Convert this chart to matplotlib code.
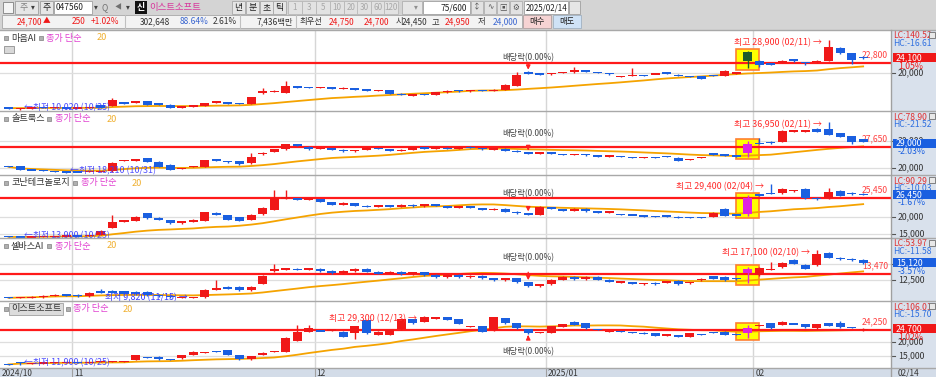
#!/usr/bin/python3
'''
Multi-stock candle chart (HTS style), 5 panels sharing one date axis.
Saves out.png (936x377).
'''
import numpy as np
import pandas as pd
import matplotlib
matplotlib.use('Agg')
import matplotlib.pyplot as plt
from matplotlib.patches import Rectangle

plt.rcParams['font.family'] = ['Noto Sans CJK KR', 'DejaVu Sans']

W, H = 936, 377
PLOT_R = 891
RED, BLUE = '#f01818', '#1a5fe0'
MA_COLOR = '#f5a300'
FS = 6.4

############ Data ############
# 75 trading days, 2024/10/24 .. 2025/02/14
month_first = [6, 27, 47, 65]
month_labels = ['11', '12', '2025/01', '02']

maum_o = [10550, 10300, 10400, 10650, 10450, 10600, 10400, 10500, 11200, 10950,
          11900, 11850, 12300, 11600, 11400, 10500, 10750, 11100, 12050, 12050,
          11850, 11550, 14550, 14900, 14550, 16400, 16150, 16000, 16100, 15700,
          16000, 15500, 15100, 15300, 14400, 13900, 14300, 14000, 14700, 15300,
          15000, 15400, 15100, 15500, 16500, 20300, 19900, 19600, 20000, 20200,
          20700, 20300, 20000, 19000, 19200, 19350, 19650, 20050, 19550, 19150,
          19100, 19300, 19250, 19900, 25700, 23200, 22550, 22700, 23800, 22850,
          22900, 23350, 26800, 25450, 24300]
maum_h = [10700, 10550, 10700, 10750, 10700, 10650, 10650, 10800, 11300, 13200,
          12100, 12400, 12400, 11850, 11450, 11000, 11300, 11950, 12300, 12150,
          11900, 13500, 15900, 15250, 17900, 16500, 16300, 16300, 16200, 16100,
          16050, 15600, 15500, 15400, 14500, 14300, 14400, 14900, 15300, 15400,
          15500, 15500, 15600, 17000, 20200, 20500, 20000, 20100, 20400, 21500,
          20800, 20400, 20100, 19300, 21350, 19450, 19950, 20100, 19650, 19250,
          19150, 19400, 20800, 20150, 26050, 23600, 22700, 23450, 23900, 23000,
          23450, 28900, 27000, 25500, 24500]
maum_l = [10300, 10020, 10300, 10400, 10400, 10300, 10350, 10450, 10450, 10900,
          11600, 11800, 11300, 11400, 10400, 10400, 10700, 11000, 11950, 11600,
          11450, 11500, 14400, 14800, 14500, 15800, 15900, 15900, 15600, 15600,
          15400, 15100, 15000, 14300, 13900, 13800, 13900, 13950, 14600, 14900,
          14900, 15000, 15000, 15400, 16400, 19600, 19400, 19500, 19900, 20100,
          20200, 19900, 19500, 18900, 19100, 19150, 19600, 19850, 19050, 18950,
          18400, 19100, 19200, 19800, 21450, 21550, 22200, 22600, 23100, 22300,
          22800, 23200, 25300, 22450, 23700]
maum_c = [10450, 10450, 10600, 10450, 10600, 10400, 10550, 10700, 10500, 12750,
          11800, 12300, 11400, 11550, 10500, 10950, 11200, 11850, 12150, 11650,
          11500, 13400, 15200, 15100, 16400, 15900, 16050, 16150, 15700, 16000,
          15500, 15200, 15400, 14400, 14000, 14200, 14000, 14800, 15200, 15000,
          15400, 15100, 15500, 16800, 19500, 19800, 19600, 20000, 20300, 20900,
          20300, 20000, 19600, 19150, 19300, 19250, 19850, 19900, 19100, 19050,
          18450, 19200, 20450, 20050, 23200, 22100, 22350, 23350, 23200, 22700,
          23350, 27000, 25450, 23650, 24100]

salt_o = [20400, 20600, 19200, 19000, 18700, 18500, 18400, 18350, 18600, 18700,
          22650, 22700, 23450, 22200, 21000, 19600, 20300, 20350, 23100, 22450,
          22450, 21600, 24900, 25900, 26750, 28600, 27750, 26800, 27200, 26600,
          26000, 26500, 27300, 26800, 26200, 26600, 27500, 27100, 27400, 26900,
          27800, 27300, 26700, 27000, 26300, 25800, 25200, 25600, 25000, 24600,
          25000, 24500, 24200, 24300, 23750, 23650, 23750, 24050, 23700, 22850,
          23600, 25300, 24900, 24300, 25300, 29000, 29600, 29600, 33500, 33500,
          34250, 34150, 32650, 31650, 30450]
salt_h = [20550, 20700, 19300, 19150, 18850, 18600, 18500, 18700, 18800, 22000,
          23000, 23050, 23600, 22300, 21200, 19900, 20600, 23000, 23250, 22600,
          22550, 25500, 25800, 26900, 28800, 28900, 27900, 27400, 27300, 26700,
          26600, 27500, 27400, 26900, 26700, 27700, 27600, 27600, 27500, 28000,
          27900, 27400, 27200, 27100, 26400, 25900, 25700, 25700, 25100, 25100,
          25100, 24600, 24500, 24400, 23900, 23850, 23850, 24200, 23800, 23300,
          23850, 25400, 25000, 24400, 29800, 30950, 29800, 33800, 34000, 33900,
          34500, 36950, 32800, 31800, 30600]
salt_l = [20200, 19100, 18950, 18700, 18400, 18210, 18250, 18300, 18500, 18500,
          22500, 22550, 22100, 20250, 19000, 19500, 20100, 20300, 22500, 21900,
          21150, 21500, 24800, 25800, 26600, 27900, 26600, 26700, 26500, 25900,
          25900, 26400, 26700, 26100, 26100, 26500, 27000, 27000, 26800, 26800,
          27200, 26600, 26600, 26200, 25700, 25000, 25100, 24900, 24500, 24500,
          24400, 24100, 24100, 23900, 23500, 23550, 23550, 23850, 22400, 22750,
          23500, 24600, 24200, 24100, 23800, 28700, 28900, 29500, 33300, 33300,
          33100, 31900, 31300, 28900, 29400]
salt_c = [20300, 19150, 19100, 18850, 18500, 18250, 18300, 18600, 18700, 21600,
          22850, 22850, 22200, 20350, 19150, 19800, 20350, 22800, 22600, 22000,
          21250, 24050, 25500, 26750, 28600, 28000, 26750, 27200, 26600, 26000,
          26500, 27300, 26800, 26200, 26600, 27500, 27100, 27400, 26900, 27800,
          27300, 26700, 27000, 26300, 25800, 25200, 25600, 25000, 24600, 25000,
          24500, 24200, 24400, 24000, 23650, 23750, 23650, 23950, 22500, 23200,
          23750, 24700, 24300, 24200, 28600, 28900, 29000, 33650, 33650, 33650,
          33250, 32050, 31400, 29550, 29550]

konan_o = [14300, 14200, 14050, 14150, 14250, 14300, 14500, 14350, 14700, 16800,
           18650, 18750, 21000, 19700, 19050, 18100, 18700, 18750, 21150, 20500,
           19800, 19050, 20700, 21950, 25150, 25200, 25050, 25100, 24300, 23500,
           24000, 23200, 22800, 23300, 22900, 23500, 23000, 23600, 23100, 22600,
           23100, 22500, 22000, 22300, 21500, 21000, 20500, 22800, 22200, 21700,
           22300, 21600, 21200, 20800, 20550, 20250, 20050, 20250, 19900, 19900,
           19900, 20000, 22150, 20550, 20700, 26350, 26850, 26800, 27450, 28050,
           25400, 25350, 27450, 26850, 26550]
konan_h = [14400, 14300, 14300, 14400, 14500, 14600, 14600, 14800, 16000, 20500,
           19100, 20100, 21100, 19800, 19150, 18850, 19200, 21400, 21300, 20600,
           19900, 20800, 22900, 27600, 27750, 25400, 25400, 25200, 24400, 24200,
           24100, 23300, 23400, 23400, 23700, 23600, 23800, 23700, 23200, 23200,
           23200, 22600, 22400, 22400, 21600, 21100, 23000, 22900, 22300, 22400,
           22400, 21700, 21600, 20900, 20700, 20400, 20200, 20400, 20100, 20000,
           20000, 21250, 22500, 20650, 26200, 26500, 29400, 28200, 27800, 28200,
           25600, 28200, 27600, 27050, 26800]
konan_l = [14000, 13900, 14000, 14100, 14150, 14250, 14250, 14300, 14600, 16700,
           18400, 18650, 19450, 18950, 18000, 18000, 18500, 18650, 20400, 18950,
           18750, 18950, 20600, 21850, 25000, 24900, 24900, 24200, 23400, 23400,
           23100, 22700, 22700, 22800, 22800, 22900, 22900, 23000, 22500, 22500,
           22400, 21900, 21900, 21400, 20900, 20400, 20400, 22100, 21600, 21600,
           21500, 21100, 21100, 20500, 20350, 20050, 19850, 20050, 19600, 19650,
           19650, 19900, 20100, 20350, 20100, 26000, 26500, 26700, 27300, 25200,
           24800, 25200, 26000, 26400, 26300]
konan_c = [14150, 14050, 14200, 14300, 14400, 14500, 14350, 14700, 15850, 18550,
           18800, 20000, 19550, 19050, 18100, 18750, 18800, 21300, 20500, 19050,
           18850, 20500, 22450, 25350, 25800, 25050, 25200, 24300, 23500, 24000,
           23200, 22800, 23300, 22900, 23500, 23000, 23600, 23100, 22600, 23100,
           22500, 22000, 22300, 21500, 21000, 20500, 22800, 22200, 21700, 22300,
           21600, 21200, 21500, 20600, 20450, 20150, 19950, 20150, 19800, 19800,
           19800, 21150, 20200, 20450, 25500, 26250, 26750, 28050, 27600, 25350,
           25350, 27250, 26100, 26750, 26450]

selvas_o = [10000, 9850, 9850, 9950, 10200, 10300, 10350, 10100, 10800, 10800,
            10850, 10750, 10750, 10300, 10100, 9900, 9820, 9950, 11150, 11400,
            11500, 11000, 12000, 13900, 14150, 14200, 14150, 14250, 13900, 13600,
            13900, 14200, 13800, 13500, 13800, 13400, 13700, 13300, 13000, 13300,
            13000, 13200, 12800, 12500, 12800, 12200, 11600, 11900, 12600, 13000,
            12700, 13000, 12600, 12200, 12150, 11950, 12150, 12200, 12400, 12100,
            12550, 13100, 13000, 12800, 13600, 13250, 14100, 14500, 15600, 14850,
            14750, 16600, 15800, 15650, 15600]
selvas_h = [10050, 10050, 10100, 10300, 10400, 10400, 10450, 10700, 11250, 11000,
            10950, 10850, 10850, 10400, 10200, 10050, 10050, 11200, 12500, 11600,
            11600, 11600, 13300, 15000, 14400, 14300, 14400, 14300, 14000, 14000,
            14300, 14300, 13900, 13900, 13900, 13800, 13800, 13400, 13400, 13400,
            13300, 13300, 12900, 12900, 12900, 12300, 12000, 12700, 13100, 13100,
            13100, 13100, 12700, 12400, 12250, 12150, 12250, 12400, 12500, 12300,
            12800, 13200, 13100, 12900, 14500, 14450, 15250, 15200, 15700, 14950,
            17100, 16750, 15950, 15800, 15700]
selvas_l = [9830, 9830, 9830, 9850, 10150, 10150, 10050, 10050, 10650, 10600,
            10400, 10350, 10200, 10000, 9900, 9850, 9820, 9900, 11050, 11200,
            10900, 10900, 11900, 13800, 14050, 14000, 14050, 13800, 13500, 13500,
            13800, 13700, 13400, 13400, 13300, 13300, 13200, 12900, 12900, 12900,
            12900, 12700, 12400, 12400, 12100, 11500, 11500, 11800, 12500, 12600,
            12600, 12500, 12200, 12100, 11950, 11850, 11850, 12100, 11850, 12000,
            12450, 12650, 12400, 12600, 12140, 13150, 14000, 14400, 14900, 14150,
            14650, 15800, 15550, 15400, 15000]
selvas_c = [9850, 9950, 10000, 10200, 10300, 10250, 10100, 10600, 10700, 10700,
            10500, 10400, 10250, 10100, 9950, 9950, 9950, 11100, 11250, 11300,
            11000, 11500, 13100, 14250, 14250, 14150, 14250, 13900, 13600, 13900,
            14200, 13800, 13500, 13800, 13400, 13700, 13300, 13000, 13300, 13000,
            13200, 12800, 12500, 12800, 12200, 11600, 11900, 12600, 13000, 12700,
            13000, 12600, 12300, 12300, 12050, 12050, 11900, 12300, 11900, 12200,
            12650, 12750, 12500, 12700, 14250, 14350, 14200, 15100, 15000, 14250,
            16500, 15900, 15700, 15550, 15120]

east_o = [12100, 12700, 12300, 12400, 12500, 12600, 12900, 12600, 12800, 12850,
          12900, 13570, 14600, 14750, 13850, 14180, 15360, 16250, 16600, 17140,
          15360, 13820, 15360, 16450, 16540, 20460, 23680, 24000, 24200, 23680,
          23100, 27850, 22500, 22500, 24530, 28100, 27250, 28500, 28900, 28100,
          25400, 25710, 24280, 28460, 26680, 24530, 23250, 23320, 25460, 27250,
          26680, 24600, 23600, 23750, 23400, 23150, 23100, 22430, 22500, 21900,
          22800, 23500, 23680, 22800, 23100, 25950, 26680, 26070, 26500, 26430,
          24890, 26680, 26680, 25300, 24450]
east_h = [12250, 12800, 12600, 12800, 12900, 13000, 13000, 13000, 13200, 13100,
          13200, 15500, 14800, 14850, 14100, 15450, 16650, 16500, 16750, 17250,
          15450, 15100, 16300, 16700, 21700, 26000, 26000, 24200, 24450, 23800,
          25850, 28000, 23800, 24400, 28250, 28250, 29300, 28900, 29000, 28200,
          25700, 25850, 29000, 28600, 26800, 24650, 23550, 25850, 26550, 27400,
          26800, 24750, 23900, 23850, 23500, 23400, 23200, 22700, 22600, 23200,
          22950, 23600, 23800, 22900, 26000, 26200, 26800, 27600, 26600, 26550,
          26550, 26800, 27400, 25450, 24950]
east_l = [11900, 11900, 12200, 12300, 12400, 12500, 12500, 12500, 12700, 12700,
          12800, 13500, 14300, 13700, 13650, 14100, 15250, 16100, 16350, 15250,
          13750, 13750, 15250, 16350, 16400, 20350, 23550, 23750, 24100, 21800,
          21000, 22950, 22400, 22400, 24400, 26550, 27100, 28350, 27850, 26300,
          25250, 23550, 24100, 26550, 24750, 22950, 23100, 23200, 25350, 25950,
          24750, 24350, 23450, 23450, 23100, 22950, 22050, 22300, 21800, 21700,
          22550, 23250, 22400, 22550, 21400, 25800, 24750, 25950, 26250, 25100,
          24750, 25700, 25100, 25050, 24000]
east_c = [12000, 12600, 12500, 12700, 12800, 12900, 12600, 12900, 13100, 13000,
          13050, 15360, 14500, 13800, 13800, 15360, 16540, 16350, 16500, 15360,
          13820, 15000, 16180, 16550, 21540, 23680, 24890, 23900, 24300, 21900,
          25710, 23100, 23680, 24280, 28100, 26680, 29030, 28650, 27900, 26430,
          25550, 23680, 28900, 26680, 24890, 23100, 23400, 25710, 26430, 26070,
          24890, 24500, 23750, 23600, 23250, 23100, 22140, 22550, 21900, 23100,
          22700, 23400, 22500, 22700, 24890, 26070, 24890, 27250, 26400, 25250,
          26430, 25820, 25250, 25200, 24700]

names = ['마음AI', '솔트룩스', '코난테크놀로지', '셀바스AI', '이스트소프트']
ohlc = [(maum_o, maum_h, maum_l, maum_c), (salt_o, salt_h, salt_l, salt_c),
        (konan_o, konan_h, konan_l, konan_c), (selvas_o, selvas_h, selvas_l, selvas_c),
        (east_o, east_h, east_l, east_c)]
ref_lines = [22800, 27650, 25450, 13470, 24250]
last_prices = [24100, 29000, 26450, 15120, 24700]
last_change = ['1.05%', '-2.03%', '-1.67%', '-3.57%', '1.02%']
lc_text = ['LC:140.52', 'LC:78.90', 'LC:90.29', 'LC:53.97', 'LC:106.01']
hc_text = ['HC:-16.61', 'HC:-21.52', 'HC:-10.03', 'HC:-11.58', 'HC:-15.70']
axis_ticks = [[20000], [20000, 30000], [15000, 20000], [12500], [15000, 20000]]
grid_levels = [[20000], [20000, 30000], [15000, 20000], [12500, 15000], [15000, 20000]]
high_idx = [71, 71, 66, 70, 36]
high_text = ['최고 28,900 (02/11)', '최고 36,950 (02/11)', '최고 29,400 (02/04)',
             '최고 17,100 (02/10)', '최고 29,300 (12/13)']
low_idx = [1, 5, 1, 16, 1]
low_text = ['최저 10,020 (10/25)', '최저 18,210 (10/31)', '최저 13,900 (10/25)',
            '최저 9,820 (11/15)', '최저 11,900 (10/25)']
EX_DIV_IDX = 45
HILITE_IDX = 64

############ Layout ############
PANEL_ROWS = [(30, 111), (111, 175), (175, 238), (238, 301), (301, 368)]
PANEL_YLIM = [(9664, 31696), (17288, 40904), (13823, 32093), (9375, 18887), (10718, 34637)]
XLIM = (-0.736, 76.41)
title_x = [(39, 46, 97), (47, 55, 107), (73, 81, 132), (47, 55, 107), (66, 73, 123)]
div_offset = [10, 13, 14, 17, -13]     # points, text offset from the candle
low_left = [False, False, False, True, False]


def v2y(i, v):
    top, bot = PANEL_ROWS[i]
    lo, hi = PANEL_YLIM[i]
    return top + (hi - v) / (hi - lo) * (bot - top)


fig = plt.figure(figsize=(W / 100, H / 100), dpi=100)
fig.patch.set_facecolor('#d4d4d4')

ov = fig.add_axes([0, 0, 1, 1], zorder=10)
ov.set_xlim(0, W)
ov.set_ylim(H, 0)
ov.axis('off')
ov.patch.set_visible(False)


def rect(x0, y0, x1, y1, fc, ec='none', lw=0.8, z=1):
    ov.add_patch(Rectangle((x0, y0), x1 - x0, y1 - y0, facecolor=fc,
                           edgecolor=ec, linewidth=lw, zorder=z))


def txt(x, y, s, color='#222222', size=FS, ha='left', va='center', **kw):
    ov.text(x, y, s, color=color, fontsize=size, ha=ha, va=va, **kw)


############ Candle panels ############
for i, (o, h, l, c) in enumerate(ohlc):
    top, bot = PANEL_ROWS[i]
    ax = fig.add_axes([0, 1 - bot / H, PLOT_R / W, (bot - top) / H], zorder=1)
    ax.set_xlim(*XLIM)
    ax.set_ylim(*PANEL_YLIM[i])
    ax.set_xticks([])
    ax.set_yticks([])
    for s in ax.spines.values():
        s.set_visible(False)
    ax.set_facecolor('white')

    o, h, l, c = map(np.array, (o, h, l, c))
    x = np.arange(len(o))
    px = (PANEL_YLIM[i][1] - PANEL_YLIM[i][0]) / (bot - top)

    # grid
    for m in month_first:
        ax.axvline(m - 0.5, color='#d6d6d6', lw=1, zorder=0.5)
    for t in grid_levels[i]:
        ax.axhline(t, color='#dedede', lw=0.9, zorder=0.5)

    # highlight box on the selected day
    j = HILITE_IDX
    ax.add_patch(Rectangle((j - 1.0, l[j] - 2 * px), 2.0, h[j] - l[j] + 4 * px,
                           facecolor='#ffff00', edgecolor='#ff7f30', lw=1.2, zorder=2))

    # moving average (close, simple, 20)
    ma = pd.Series(c).rolling(20, min_periods=1).mean()
    ax.plot(x, ma, color=MA_COLOR, lw=1.3, zorder=2.5)

    # reference line
    ax.axhline(ref_lines[i], color='#ff1a1a', lw=1.6, zorder=2.6)
    ax.annotate(f'{ref_lines[i]:,}', xy=(73.9, ref_lines[i]), xytext=(0, 2.5),
                textcoords='offset points', color='#ff4040', fontsize=6.2,
                ha='left', va='bottom')

    # candles
    up = c >= o
    cols = np.where(up, RED, BLUE).astype(object)
    cols[j] = '#e020e0' if up[j] else '#1d5c2c'
    ax.vlines(x, l, h, colors=list(cols), lw=1, zorder=3)
    body = np.maximum(np.abs(c - o), 1.3 * px)
    base = np.minimum(o, c) - (body - np.abs(c - o)) / 2
    ax.bar(x, body, bottom=base, width=0.78, color=list(cols), linewidth=0, zorder=4)

    # high / low markers
    k = high_idx[i]
    ax.annotate(high_text[i] + ' →', xy=(k, h[k]), xytext=(-5, -2),
                textcoords='offset points', color='#ff2a2a', fontsize=FS,
                ha='right', va='center', zorder=6)
    k = low_idx[i]
    if low_left[i]:
        ax.annotate(low_text[i] + ' →', xy=(k, l[k]), xytext=(-4, 0),
                    textcoords='offset points', color='#3a3aff', fontsize=FS,
                    ha='right', va='center', zorder=6)
    else:
        ax.annotate('←' + low_text[i], xy=(k, l[k]), xytext=(3, 1.5),
                    textcoords='offset points', color='#3a3aff', fontsize=FS,
                    ha='left', va='center', zorder=6, alpha=0.9)

    # ex-dividend marker
    k = EX_DIV_IDX
    dy = div_offset[i]
    anchor = h[k] if dy > 0 else l[k]
    ax.annotate('배당락(0.00%)', xy=(k, anchor), xytext=(0, dy),
                textcoords='offset points', color='#444444', fontsize=6,
                ha='center', va='center', zorder=6,
                arrowprops=dict(arrowstyle='-|>', color='#ff2020', lw=1,
                                mutation_scale=6, shrinkA=5, shrinkB=1))

    # title
    ty = top + 8
    sq1, sq2, n20 = title_x[i]
    rect(4, ty - 2, 8, ty + 2, '#b0b0b0', ec='#808080', lw=0.5, z=5)
    if i == 4:
        rect(9, ty - 6, 63, ty + 6, '#dcdcdc', ec='#a0a0a0', lw=0.6, z=4)
    txt(11, ty, names[i], color='#333333', size=6.6, zorder=6)
    rect(sq1, ty - 2, sq1 + 4, ty + 2, '#b0b0b0', ec='#808080', lw=0.5, z=5)
    txt(sq2, ty, '종가 단순', color='#e040d0', size=6.6)
    txt(n20, ty, '20', color='#f0b030', size=6.6)

    # right value strip
    rect(PLOT_R, top, W, bot, '#d9e1ec', ec='none', z=1)
    txt(893, top + 6, lc_text[i], color='#e03030', size=6.2)
    txt(893, top + 13.5, hc_text[i], color='#3070e0', size=6.2)
    rect(929, top + 2, 935, top + 8, '#e8e8e8', ec='#707070', lw=0.6, z=3)
    for t in grid_levels[i]:
        yy = v2y(i, t)
        ov.plot([PLOT_R, PLOT_R + 4], [yy, yy], color='#555555', lw=0.8, zorder=2)
    for t in axis_ticks[i]:
        txt(898, v2y(i, t), f'{t:,}', color='#333333', size=6.3, zorder=2)
    yy = v2y(i, last_prices[i])
    pc = RED if not last_change[i].startswith('-') else BLUE
    rect(893, yy - 4.5, W, yy + 4.5, pc, z=4)
    txt(896, yy, f'{last_prices[i]:,}', color='white', size=6.3, zorder=5)
    txt(898, yy + 8.5, last_change[i], color=pc, size=6.3, zorder=5)

# panel frames
for top, bot in PANEL_ROWS:
    ov.plot([0, W], [top, top], color='#a8a8a8', lw=1, zorder=7)
ov.plot([0, W], [368, 368], color='#a8a8a8', lw=1, zorder=7)
ov.plot([PLOT_R, PLOT_R], [30, 377], color='#a0a0a0', lw=1, zorder=7)
rect(4, 46, 14, 53, '#d8d8d8', ec='#909090', lw=0.6, z=5)

############ Date axis ############
rect(0, 368, W, H, '#d3dce8', z=1)
txt(2, 373, '2024/10', color='#333333', size=6)
for m, lab in zip(month_first, month_labels):
    xp = 8.5 + 11.55 * (m - 0.5)
    ov.plot([xp, xp], [368, 377], color='#a0a0a0', lw=0.8, zorder=2)
    txt(xp + 2, 373, lab, color='#333333', size=6)
txt(898, 373, '02/14', color='#333333', size=6)

############ Toolbar ############
rect(0, 0, W, 29, '#d4d4d4', z=0)
rect(3, 2, 13, 13, '#f4f4f4', ec='#808080', lw=0.6)
rect(15, 1, 38, 14, '#e6e6e6', ec='#a0a0a0', lw=0.6)
txt(19, 7.5, '주', color='#808080')
txt(31, 7.5, '▾', color='#404040', size=5.5)
rect(40, 1, 53, 14, '#e6e6e6', ec='#a0a0a0', lw=0.6)
txt(46.5, 7.5, '추', ha='center')
rect(54, 1, 92, 14, 'white', ec='#a0a0a0', lw=0.6)
txt(56, 7.5, '047560', size=6)
txt(94, 7.5, '▾', color='#404040', size=5.5)
txt(102, 7.5, 'Q', color='#707070', size=6)
txt(115, 7.5, '◀', color='#707070', size=5)
txt(126, 7.5, '▾', color='#404040', size=5.5)
rect(135, 1, 147, 14, '#111111')
txt(141, 7.5, '신', color='white', ha='center', weight='bold')
txt(149, 7.5, '이스트소프트', color='#d8389c', size=6.8)
for xs, lab in zip([232, 246, 260, 273], ['년', '분', '초', '틱']):
    rect(xs, 1, xs + 13, 14, '#e6e6e6', ec='#a8a8a8', lw=0.6)
    txt(xs + 6.5, 7.5, lab, ha='center')
for xs, lab in zip([288, 302, 316, 330, 344, 357, 371, 384],
                   ['1', '3', '5', '10', '20', '30', '60', '120']):
    rect(xs, 1, xs + 14, 14, '#e2e2e2', ec='#b8b8b8', lw=0.6)
    txt(xs + 7, 7.5, lab, color='#a8a8a8', ha='center', size=5.8)
rect(402, 1, 422, 14, '#e6e6e6', ec='#b0b0b0', lw=0.6)
txt(414, 7.5, '▾', color='#909090', size=5.5)
rect(423, 1, 470, 14, 'white', ec='#a0a0a0', lw=0.6)
txt(467, 7.5, '75/600', ha='right', size=6)
for xs, lab in zip([471, 484, 497, 510], ['↕', '∿', '▣', '⚙']):
    rect(xs, 1, xs + 12, 14, '#e2e2e2', ec='#b0b0b0', lw=0.6)
    txt(xs + 6, 7.5, lab, color='#555555', ha='center', size=5.5)
rect(524, 1, 568, 14, 'white', ec='#a0a0a0', lw=0.6)
txt(526, 7.5, '2025/02/14', size=5.8)
rect(569, 1, 580, 14, '#e6e6e6', ec='#a0a0a0', lw=0.6)

rect(2, 15, 522, 28, '#f3f3f3', ec='#a8a8a8', lw=0.6)
for xs in [125, 240, 296]:
    ov.plot([xs, xs], [15, 28], color='#c0c0c0', lw=0.8, zorder=2)
ts = 6.0
txt(42, 21.5, '24,700', color=RED, ha='right', size=ts)
txt(43, 21.5, '▲', color=RED, size=5.5)
txt(85, 21.5, '250', color=RED, ha='right', size=ts)
txt(119, 21.5, '+1.02%', color=RED, ha='right', size=ts)
txt(170, 21.5, '302,648', color='#333333', ha='right', size=ts)
txt(208, 21.5, '88.64%', color='#3a66d0', ha='right', size=ts)
txt(237, 21.5, '2.61%', color='#333333', ha='right', size=ts)
txt(293, 21.5, '7,436백만', color='#333333', ha='right', size=ts)
txt(300, 21.5, '최우선', color='#333333', size=ts)
txt(354, 21.5, '24,750', color=RED, ha='right', size=ts)
txt(389, 21.5, '24,700', color=RED, ha='right', size=ts)
txt(396, 21.5, '시', color='#333333', size=ts)
txt(427, 21.5, '24,450', color='#333333', ha='right', size=ts)
txt(432, 21.5, '고', color='#333333', size=ts)
txt(470, 21.5, '24,950', color=RED, ha='right', size=ts)
txt(478, 21.5, '저', color='#333333', size=ts)
txt(518, 21.5, '24,000', color='#3a66d0', ha='right', size=ts)
rect(523, 15, 551, 28, '#f6d3d3', ec='#b0a0a0', lw=0.6)
txt(537, 21.5, '매수', ha='center', size=ts)
rect(553, 15, 581, 28, '#cfe2f6', ec='#a0b0c0', lw=0.6)
txt(567, 21.5, '매도', ha='center', size=ts)

fig.savefig('out.png', dpi=100, facecolor=fig.get_facecolor())
